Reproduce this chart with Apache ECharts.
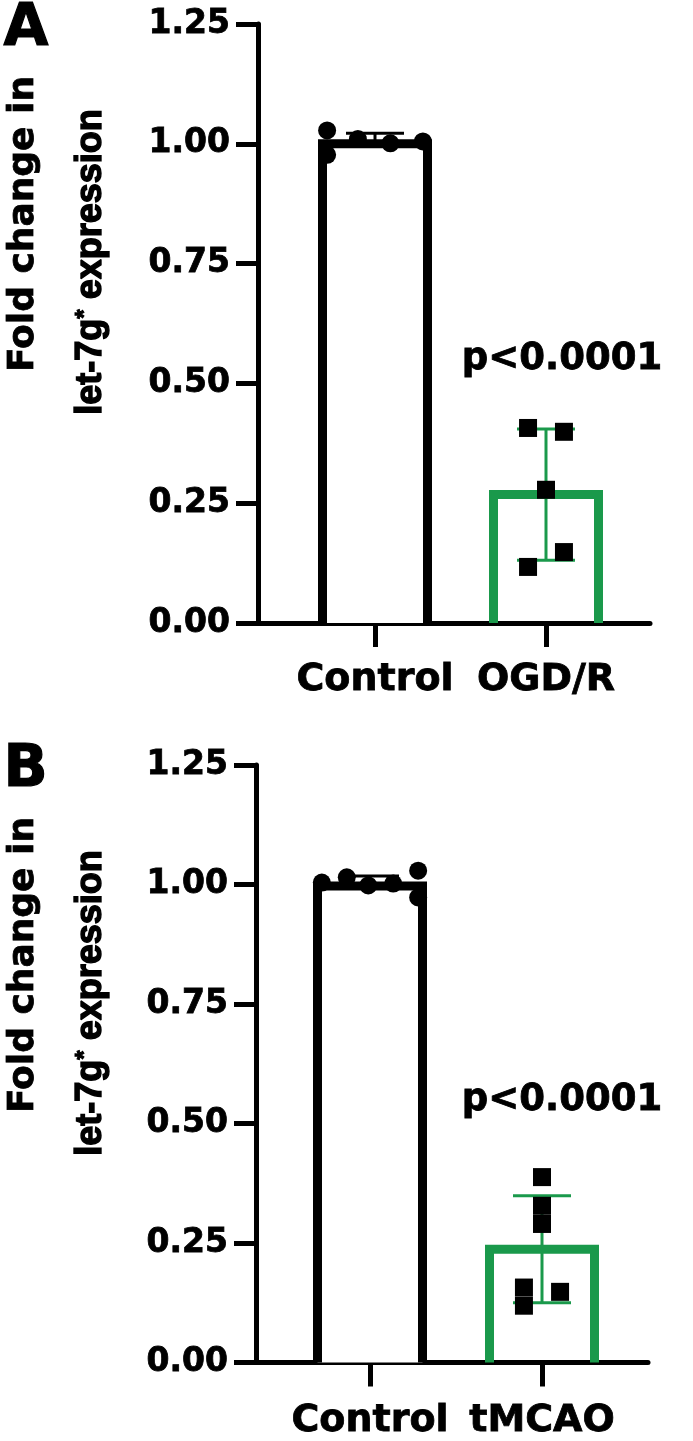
<!DOCTYPE html>
<html><head><meta charset="utf-8">
<script src="https://cdn.jsdelivr.net/npm/echarts@6/dist/echarts.min.js"></script>
<style>html,body{margin:0;padding:0;background:#fff}#c{width:693px;height:1441px}</style>
</head><body><div id="c"></div>
<script>
// ---- data ----
const yTickLabels = ['0.00', '0.25', '0.50', '0.75', '1.00', '1.25'];
const groupsA = ['Control', 'OGD/R'];
const groupsB = ['Control', 'tMCAO'];
const meansA = [1.000, 0.268];
const sdA = [0.022, 0.137];
const meansB = [0.997, 0.237];
const sdB = [0.021, 0.112];
const ctrlA = [1.028, 0.977, 1.010, 1.001, 1.005];
const ctrlAJitter = [-0.28, -0.28, -0.10, 0.09, 0.28];
const ogdA = [0.407, 0.399, 0.278, 0.148, 0.117];
const ogdAJitter = [-0.105, 0.105, 0, 0.105, -0.105];
const ctrlB = [1.004, 1.015, 0.998, 1.002, 1.029, 0.973];
const ctrlBJitter = [-0.28, -0.135, -0.01, 0.135, 0.28, 0.28];
const mcaoB = [0.388, 0.328, 0.290, 0.157, 0.119, 0.148];
const mcaoBJitter = [0, 0, 0, -0.105, -0.105, 0.105];
const pLabel = 'p<0.0001';
const yTitle1 = 'Fold change in';
const yTitle2a = 'let-7g';
const yTitle2b = '*';
const yTitle2c = ' expression';

// ---- style ----
const FONT = 'DejaVu Sans';
const GREEN = '#1a994b';
const BLACK = '#000';
const colors = [BLACK, GREEN];
const TB = 0.8; // slight text outline to mimic the heavier bold of the original

const panels = [
  {letter: 'A', groups: groupsA, means: meansA, sd: sdA, pts: [[ctrlA, ctrlAJitter, 'circle'], [ogdA, ogdAJitter, 'rect']],
   left: 258, top: 24, height: 599, width: 392, gapPx: 117, unitPx: 171, labelMargin: 38},
  {letter: 'B', groups: groupsB, means: meansB, sd: sdB, pts: [[ctrlB, ctrlBJitter, 'circle'], [mcaoB, mcaoBJitter, 'rect']],
   left: 256, top: 765, height: 598, width: 392, gapPx: 114, unitPx: 172, labelMargin: 40}
];

const grid = [], xAxis = [], yAxis = [], series = [], graphic = [];
panels.forEach((p, k) => {
  grid.push({left: p.left, top: p.top, width: p.width, height: p.height, containLabel: false});
  const xmin = 1 - p.gapPx / p.unitPx;
  const xmax = xmin + p.width / p.unitPx;
  xAxis.push({
    type: 'value', gridIndex: k, min: xmin, max: xmax,
    splitLine: {show: false},
    axisLine: {show: true, lineStyle: {color: BLACK, width: 5}},
    axisTick: {show: true, customValues: [1, 2], length: 24, lineStyle: {color: BLACK, width: 5}},
    axisLabel: {show: true, customValues: [1, 2], formatter: v => p.groups[Math.round(v) - 1] || '',
      fontFamily: FONT, fontWeight: 'bold', fontSize: 38, color: BLACK, margin: p.labelMargin,
      textBorderColor: BLACK, textBorderWidth: TB}
  });
  yAxis.push({
    type: 'value', gridIndex: k, min: 0, max: 1.25, interval: 0.25,
    splitLine: {show: false},
    axisLine: {show: true, lineStyle: {color: BLACK, width: 5}},
    axisTick: {show: true, length: 22, lineStyle: {color: BLACK, width: 5}},
    axisLabel: {formatter: v => yTickLabels[Math.round(v / 0.25)], fontFamily: FONT, fontWeight: 'bold',
      fontSize: 33, color: BLACK, margin: 28, textBorderColor: BLACK, textBorderWidth: TB}
  });
  // error bars
  series.push({
    type: 'custom', xAxisIndex: k, yAxisIndex: k, z: 1, silent: true,
    data: p.means.map((m, i) => [i + 1, m, p.sd[i]]),
    renderItem: (params, api) => {
      const x = api.value(0), m = api.value(1), s = api.value(2);
      const t = api.coord([x, m + s]), b = api.coord([x, m - s]);
      const c = colors[params.dataIndex];
      const hw = 29;
      const st = {stroke: c, lineWidth: 3};
      return {type: 'group', children: [
        {type: 'line', shape: {x1: t[0], y1: t[1], x2: b[0], y2: b[1]}, style: st},
        {type: 'line', shape: {x1: t[0] - hw, y1: t[1], x2: t[0] + hw, y2: t[1]}, style: st},
        {type: 'line', shape: {x1: b[0] - hw, y1: b[1], x2: b[0] + hw, y2: b[1]}, style: st}
      ]};
    }
  });
  // bars (open at the bottom, drawn through the axes' scales)
  series.push({
    type: 'custom', xAxisIndex: k, yAxisIndex: k, z: 2, silent: true,
    data: p.means.map((m, i) => [i + 1, m]),
    renderItem: (params, api) => {
      const x = api.value(0), m = api.value(1);
      const t = api.coord([x, m]), b = api.coord([x, 0]);
      const half = 52.5;
      const c = colors[params.dataIndex];
      const kids = [];
      if (params.dataIndex === 0) {
        kids.push({type: 'rect', shape: {x: t[0] - half, y: t[1], width: half * 2, height: b[1] - t[1]}, style: {fill: '#fff'}});
      }
      kids.push({type: 'polyline', shape: {points: [[t[0] - half, b[1]], [t[0] - half, t[1]], [t[0] + half, t[1]], [t[0] + half, b[1]]]},
        style: {stroke: c, lineWidth: 9, fill: null, lineJoin: 'miter'}});
      return {type: 'group', children: kids};
    }
  });
  // points
  p.pts.forEach(([vals, jit, sym]) => {
    const gi = sym === 'circle' ? 1 : 2;
    series.push({
      type: 'scatter', xAxisIndex: k, yAxisIndex: k, z: 3, symbol: sym, symbolSize: 18, silent: true,
      itemStyle: {color: BLACK, opacity: 1},
      data: vals.map((v, i) => [gi + jit[i], v])
    });
  });
  // texts
  const dy = p.top - 24;
  graphic.push({type: 'text', left: 3, top: dy, style: {text: p.letter, font: 'bold 58px "' + FONT + '"', fill: BLACK, stroke: BLACK, lineWidth: 1.2}});
  graphic.push({type: 'text', x: 24, y: 224 + dy, rotation: Math.PI / 2,
    style: {text: yTitle1, font: 'bold 36px "' + FONT + '"', fill: BLACK, stroke: BLACK, lineWidth: TB, align: 'center', verticalAlign: 'middle'}});
  graphic.push({type: 'text', x: 91, y: 262 + dy, rotation: Math.PI / 2,
    style: {text: '{a|' + yTitle2a + '}{s|' + yTitle2b + '}{a|' + yTitle2c + '}', align: 'center', verticalAlign: 'middle',
      rich: {
        a: {fontFamily: 'Liberation Sans', fontWeight: 'bold', fontSize: 36, fill: BLACK, stroke: BLACK, lineWidth: 1.4},
        s: {fontFamily: 'Liberation Sans', fontWeight: 'bold', fontSize: 24, fill: BLACK, stroke: BLACK, lineWidth: 1, verticalAlign: 'top', padding: [0, 0, 12, 0]}
      }}});
  graphic.push({type: 'text', x: 562, y: 359 + dy, style: {text: pLabel, font: 'bold 37px "' + FONT + '"', fill: BLACK, stroke: BLACK, lineWidth: TB, align: 'center', verticalAlign: 'middle'}});
});

const chart = echarts.init(document.getElementById('c'), null, {renderer: 'canvas'});
chart.setOption({animation: false, backgroundColor: '#fff', grid, xAxis, yAxis, series, graphic});
</script></body></html>
